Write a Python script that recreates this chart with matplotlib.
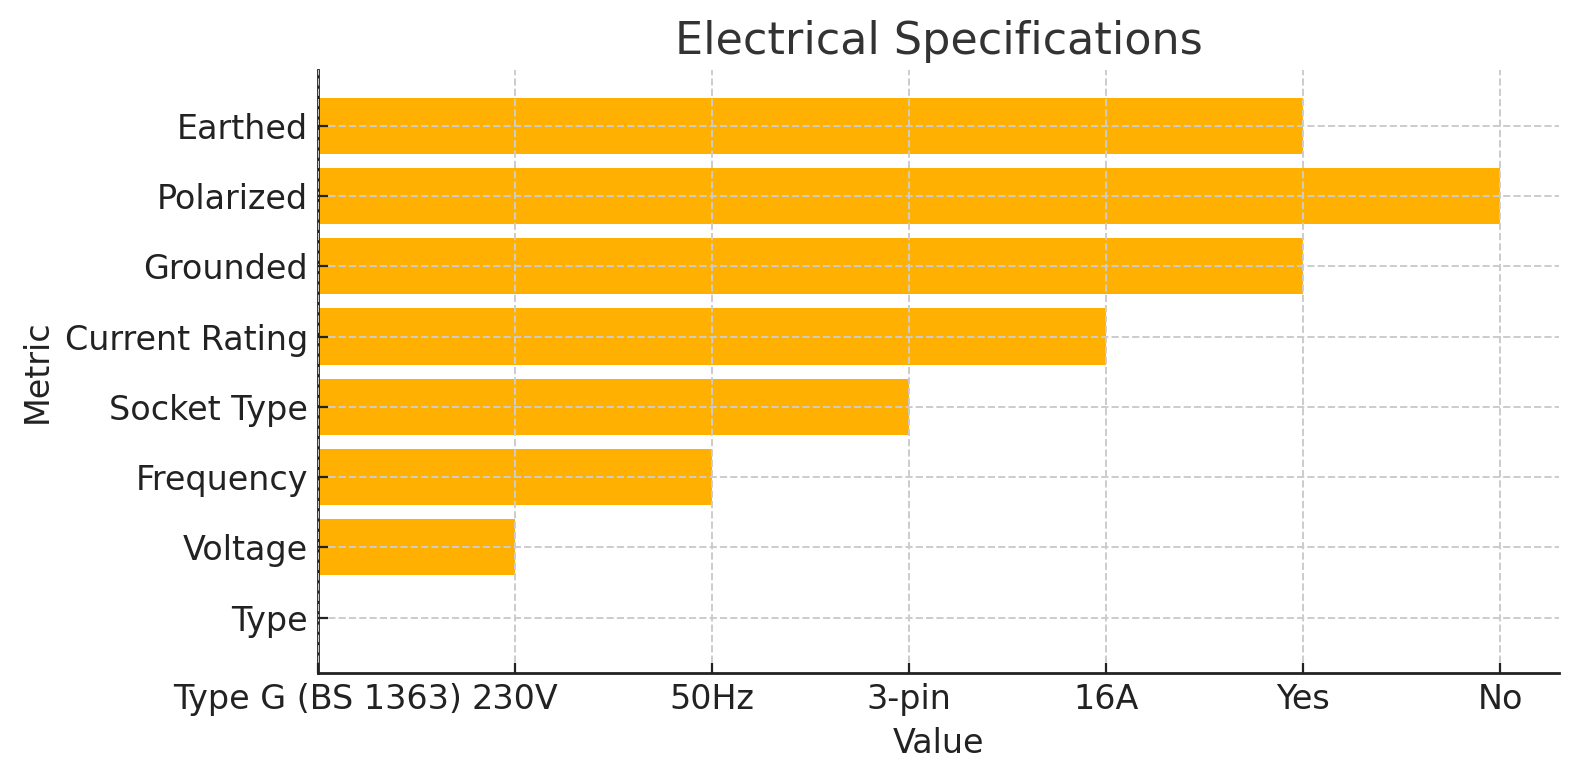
import matplotlib
matplotlib.use("Agg")
import matplotlib.pyplot as plt

metrics = ["Type", "Voltage", "Frequency", "Socket Type", "Current Rating",
           "Grounded", "Polarized", "Earthed"]
values = ["Type G (BS 1363)", "230V", "50Hz", "3-pin", "16A", "Yes", "No", "Yes"]

plt.rcParams['font.family'] = ['DejaVu Sans']
fig, ax = plt.subplots(figsize=(7.9, 3.9), dpi=200)
ax.barh(metrics, values, color="#FFB000")
ax.set_title("Electrical Specifications", fontsize=16, color="#333333")
ax.set_xlabel("Value", fontsize=12, color="#222222")
ax.set_ylabel("Metric", fontsize=12, color="#222222")
ax.tick_params(axis='both', labelsize=12, direction='in', colors="#222222",
               labelcolor="#222222")
ax.grid(True, linestyle='--', color="#cccccc", linewidth=0.7)
ax.set_axisbelow(False)
for s in ["top", "right"]:
    ax.spines[s].set_visible(False)
for s in ["left", "bottom"]:
    ax.spines[s].set_color("#222222")
    ax.spines[s].set_linewidth(1.0)
fig.subplots_adjust(left=0.201, right=0.987, top=0.91, bottom=0.137)
fig.savefig("out.png", dpi=200)
